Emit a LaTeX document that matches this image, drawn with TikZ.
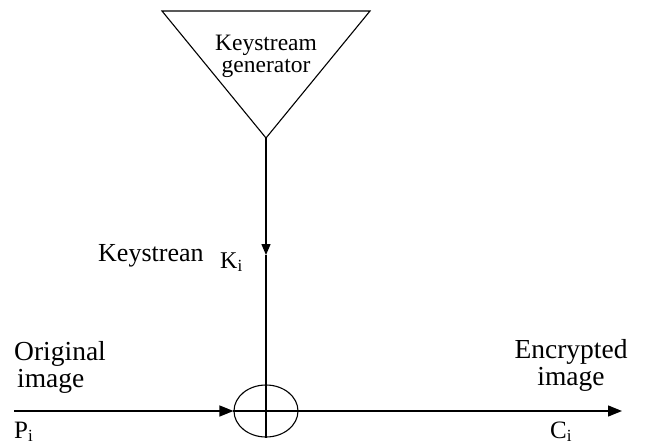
\documentclass[tikz,border=0pt]{standalone}
\usepackage{fontspec}
\setmainfont{Liberation Serif}
\usetikzlibrary{shapes.geometric,arrows.meta}
\newcommand{\mysub}[1]{\raisebox{-0.3ex}{\fontsize{17}{17}\selectfont #1}}
\tikzset{
  wire/.style={line width=1.3pt, black},
  bigtip/.style={-{Triangle[length=14pt,width=11pt]}},
  smalltip/.style={-{Triangle[length=11pt,width=9pt]}},
  lbl/.style={inner sep=0pt, font=\fontsize{27.5}{27}\selectfont},
  inlbl/.style={inner sep=0pt, align=center, font=\fontsize{23.5}{22}\selectfont},
  xorbox/.style={ellipse, draw, line width=1.1pt, minimum width=64pt, minimum height=52pt, inner sep=0pt}
}
\begin{document}
\begin{tikzpicture}[x=1pt,y=-1pt]
\useasboundingbox (0,0) rectangle (646,447);
% keystream generator triangle
\coordinate (tl) at (162,11);
\coordinate (tr) at (370,11);
\coordinate (apex) at (266,138);
\draw[line width=1.1pt, line join=miter] (tl) -- (tr) -- (apex) -- cycle;
\node[inlbl] (gen) at (266,56) {Keystream\\generator};
% xor
\node[xorbox] (xor) at (266,411) {};
\coordinate (kt) at (266,255);
\coordinate (in) at (14,411);
\coordinate (out) at (622,411);
\draw[wire, smalltip] (apex) -- (kt);
\draw[wire] (kt) -- (xor.south);
\draw[wire, bigtip] (in) -- (xor.west);
\draw[wire, bigtip] (xor.west) -- (out);
% labels
\node[lbl, anchor=base west, font=\fontsize{26}{26}\selectfont] (ks) at (98,261) {Keystrean};
\node[lbl, anchor=base west, font=\fontsize{24}{24}\selectfont] (ki) at (220,268) {K\mysub{i}};
\node[lbl, anchor=base west, align=left] (orig) at (14,387) {Original\\\hspace*{3pt}image};
\node[lbl, anchor=base, align=center] (enc) at (571,385) {Encrypted\\image};
\node[lbl, anchor=base west, font=\fontsize{25}{25}\selectfont] (pi) at (14,438) {P\mysub{i}};
\node[lbl, anchor=base west, font=\fontsize{25}{25}\selectfont] (ci) at (550,438) {C\mysub{i}};
\end{tikzpicture}
\end{document}
